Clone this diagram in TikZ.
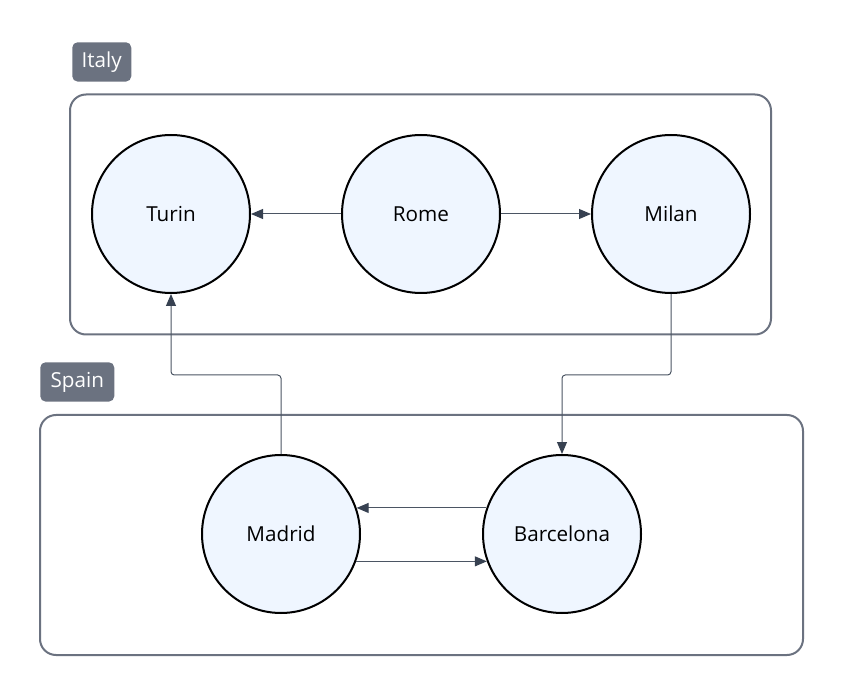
\documentclass[tikz,border=0pt]{standalone}
\usepackage{fontspec}
\setmainfont{Open Sans}
\usetikzlibrary{arrows.meta}
\definecolor{citycolor}{RGB}{239, 246, 255}
\definecolor{groupcolor}{RGB}{107, 114, 128}
\definecolor{linkcolor}{RGB}{75, 85, 99}
\definecolor{headcolor}{RGB}{55, 65, 81}

\begin{document}
\begin{tikzpicture}[
    x=0.75pt, y=-0.75pt,
    city/.style={circle, draw=black, line width=1.5pt, fill=citycolor,
                 minimum size=118.5pt, inner sep=0pt, font=\fontsize{15.5}{18}\selectfont},
    group/.style={draw=groupcolor, line width=1.5pt, rounded corners=12pt,
                  inner sep=0pt, minimum height=180pt},
    tag/.style={fill=groupcolor, text=white, rounded corners=4pt, inner sep=0pt,
                minimum height=29.5pt, font=\fontsize{15.5}{18}\selectfont},
    link/.style={draw=linkcolor, line width=0.75pt, rounded corners=2.5pt,
                 -{Triangle[length=9pt, width=7.5pt, color=headcolor]}},
  ]

  \useasboundingbox (0,0) rectangle (843,695);

  \def\rowa{214}   % Italy row
  \def\rowb{534}   % Spain row
  \def\bend{375}   % y of the routed links

  % --- Groups ---
  \node[group, minimum width=525.75pt] (italy) at (420.5, 214.5) {};
  \node[tag, minimum width=44.25pt, anchor=north west] (italytag) at (72, 42) {Italy};
  \node[group, minimum width=572.25pt] (spain) at (421.5, 535) {};
  \node[tag, minimum width=55.5pt, anchor=north west] (spaintag) at (40, 362) {Spain};

  % --- Cities ---
  \node[city] (turin) at (171, \rowa) {Turin};
  \node[city] (rome)  at (421, \rowa) {Rome};
  \node[city] (milan) at (671, \rowa) {Milan};
  \node[city] (madrid)    at (281, \rowb) {Madrid};
  \node[city] (barcelona) at (562, \rowb) {Barcelona};

  % --- Links ---
  \draw[link] (rome) -- (turin);
  \draw[link] (rome) -- (milan);
  \draw[link] (madrid.north) -- (madrid.north |- 0,\bend) -| (turin.south);
  \draw[link] (milan.south) -- (milan.south |- 0,\bend) -| (barcelona.north);
  \draw[link] (barcelona.161) -- (madrid.19);
  \draw[link] (madrid.-20) -- (barcelona.200);

\end{tikzpicture}
\end{document}
